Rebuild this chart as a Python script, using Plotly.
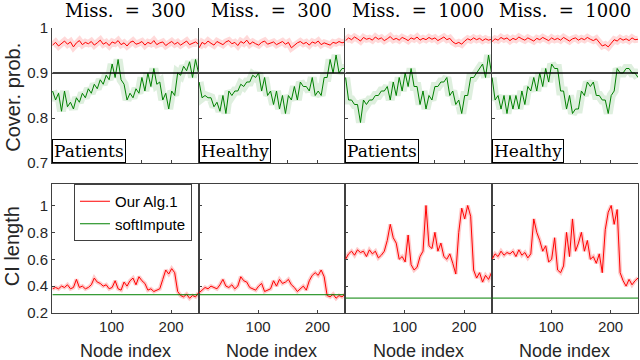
import plotly.graph_objects as go
from plotly.subplots import make_subplots

# node index (every 5th node of 246)
nodes = list(range(1, 247, 5))

titles = ["Miss. = 300", "Miss. = 300", "Miss. = 1000", "Miss. = 1000"]
groups = ["Patients", "Healthy", "Patients", "Healthy"]
target = 0.9

# coverage probability, our algorithm
cov_ours_1 = [0.962, 0.968, 0.960, 0.966, 0.971, 0.964, 0.969, 0.958, 0.967, 0.972,
              0.963, 0.968, 0.965, 0.970, 0.962, 0.967, 0.973, 0.964, 0.968, 0.961,
              0.969, 0.966, 0.972, 0.963, 0.967, 0.960, 0.968, 0.971, 0.964, 0.966,
              0.970, 0.962, 0.968, 0.965, 0.972, 0.963, 0.967, 0.969, 0.961, 0.966,
              0.970, 0.964, 0.968, 0.962, 0.967, 0.971, 0.963, 0.966, 0.969, 0.964]
cov_ours_2 = [0.956, 0.968, 0.964, 0.971, 0.966, 0.962, 0.970, 0.967, 0.963, 0.969,
              0.972, 0.965, 0.968, 0.961, 0.970, 0.966, 0.973, 0.964, 0.969, 0.965,
              0.962, 0.968, 0.971, 0.964, 0.967, 0.969, 0.963, 0.966, 0.970, 0.964,
              0.968, 0.956, 0.962, 0.967, 0.970, 0.965, 0.968, 0.962, 0.969, 0.966,
              0.971, 0.963, 0.967, 0.965, 0.962, 0.968, 0.966, 0.970, 0.967, 0.969]
cov_ours_3 = [0.972, 0.978, 0.974, 0.980, 0.976, 0.971, 0.979, 0.975, 0.977, 0.973,
              0.980, 0.975, 0.978, 0.972, 0.976, 0.981, 0.974, 0.977, 0.973, 0.979,
              0.976, 0.972, 0.978, 0.975, 0.980, 0.973, 0.977, 0.974, 0.979, 0.975,
              0.978, 0.972, 0.976, 0.980, 0.974, 0.977, 0.969, 0.965, 0.968, 0.964,
              0.971, 0.976, 0.973, 0.978, 0.974, 0.977, 0.972, 0.976, 0.973, 0.975]
cov_ours_4 = [0.970, 0.976, 0.973, 0.979, 0.975, 0.978, 0.972, 0.977, 0.974, 0.980,
              0.976, 0.973, 0.978, 0.975, 0.971, 0.977, 0.974, 0.979, 0.975, 0.972,
              0.978, 0.974, 0.977, 0.973, 0.979, 0.975, 0.971, 0.976, 0.978, 0.973,
              0.977, 0.974, 0.979, 0.975, 0.972, 0.976, 0.968, 0.960, 0.963, 0.958,
              0.966, 0.974, 0.971, 0.977, 0.973, 0.976, 0.972, 0.978, 0.974, 0.975]

# coverage probability, softImpute
cov_soft_1 = [0.86, 0.84, 0.855, 0.815, 0.86, 0.825, 0.835, 0.82, 0.845, 0.835,
              0.855, 0.845, 0.865, 0.855, 0.875, 0.865, 0.885, 0.875, 0.895, 0.885,
              0.92, 0.89, 0.93, 0.885, 0.875, 0.84, 0.855, 0.845, 0.865, 0.855,
              0.89, 0.86, 0.90, 0.87, 0.91, 0.875, 0.88, 0.84, 0.855, 0.82,
              0.86, 0.85, 0.90, 0.895, 0.915, 0.905, 0.925, 0.89, 0.93, 0.90]
cov_soft_2 = [0.88, 0.845, 0.85, 0.845, 0.845, 0.825, 0.835, 0.815, 0.85, 0.81,
              0.86, 0.85, 0.86, 0.86, 0.875, 0.87, 0.88, 0.88, 0.895, 0.89,
              0.90, 0.86, 0.89, 0.85, 0.86, 0.83, 0.86, 0.82, 0.85, 0.81,
              0.85, 0.84, 0.87, 0.84, 0.88, 0.87, 0.87, 0.86, 0.89, 0.85,
              0.86, 0.85, 0.89, 0.89, 0.93, 0.90, 0.94, 0.90, 0.91, 0.91]
cov_soft_3 = [0.89, 0.84, 0.84, 0.83, 0.83, 0.79, 0.84, 0.83, 0.84, 0.84,
              0.85, 0.85, 0.86, 0.86, 0.87, 0.84, 0.88, 0.85, 0.89, 0.86,
              0.90, 0.87, 0.91, 0.87, 0.87, 0.83, 0.86, 0.82, 0.85, 0.84,
              0.87, 0.87, 0.88, 0.88, 0.89, 0.85, 0.86, 0.83, 0.84, 0.81,
              0.85, 0.85, 0.89, 0.89, 0.90, 0.91, 0.92, 0.89, 0.94, 0.90]
cov_soft_4 = [0.89, 0.84, 0.85, 0.82, 0.85, 0.81, 0.85, 0.82, 0.85, 0.82,
              0.86, 0.83, 0.87, 0.86, 0.89, 0.86, 0.90, 0.87, 0.91, 0.88,
              0.92, 0.91, 0.91, 0.86, 0.86, 0.82, 0.85, 0.81, 0.82, 0.82,
              0.86, 0.85, 0.88, 0.87, 0.88, 0.85, 0.85, 0.84, 0.84, 0.81,
              0.85, 0.86, 0.91, 0.90, 0.90, 0.91, 0.91, 0.90, 0.90, 0.89]

# CI length, our algorithm
ci_ours_1 = [0.38, 0.39, 0.38, 0.40, 0.39, 0.41, 0.38, 0.39, 0.45, 0.39,
             0.40, 0.38, 0.39, 0.41, 0.46, 0.43, 0.42, 0.40, 0.41, 0.38,
             0.39, 0.44, 0.38, 0.37, 0.43, 0.40, 0.44, 0.46, 0.41, 0.47,
             0.44, 0.42, 0.37, 0.38, 0.36, 0.37, 0.38, 0.45, 0.52, 0.49,
             0.53, 0.50, 0.36, 0.33, 0.32, 0.34, 0.31, 0.33, 0.32, 0.35]
ci_ours_2 = [0.35, 0.37, 0.39, 0.38, 0.40, 0.39, 0.38, 0.41, 0.45, 0.40,
             0.39, 0.41, 0.38, 0.40, 0.47, 0.44, 0.43, 0.39, 0.38, 0.37,
             0.40, 0.42, 0.36, 0.37, 0.38, 0.44, 0.40, 0.45, 0.42, 0.43,
             0.45, 0.41, 0.39, 0.36, 0.38, 0.40, 0.37, 0.44, 0.48, 0.50,
             0.48, 0.52, 0.47, 0.33, 0.32, 0.34, 0.31, 0.33, 0.32, 0.34]
ci_ours_3 = [0.60, 0.64, 0.66, 0.63, 0.67, 0.65, 0.66, 0.62, 0.67, 0.64,
             0.66, 0.61, 0.63, 0.66, 0.74, 0.86, 0.76, 0.72, 0.60, 0.62,
             0.58, 0.78, 0.56, 0.52, 0.54, 0.62, 0.66, 1.00, 0.70, 0.68,
             0.80, 0.66, 0.72, 0.62, 0.60, 0.64, 0.57, 0.49, 0.80, 0.98,
             0.90, 1.00, 0.92, 0.52, 0.46, 0.50, 0.43, 0.48, 0.45, 0.50]
ci_ours_4 = [0.60, 0.64, 0.62, 0.66, 0.63, 0.65, 0.64, 0.66, 0.62, 0.67,
             0.63, 0.65, 0.61, 0.64, 0.90, 0.80, 0.74, 0.66, 0.70, 0.58,
             0.60, 0.76, 0.52, 0.50, 0.55, 0.80, 0.62, 0.90, 0.66, 0.72,
             0.80, 0.66, 0.74, 0.60, 0.62, 0.57, 0.64, 0.50, 0.82, 0.95,
             1.00, 0.86, 0.97, 0.50, 0.44, 0.40, 0.45, 0.41, 0.44, 0.46]

# CI length, softImpute (flat per panel)
ci_soft = [0.336, 0.336, 0.311, 0.311]

cov_ours = [cov_ours_1, cov_ours_2, cov_ours_3, cov_ours_4]
cov_soft = [cov_soft_1, cov_soft_2, cov_soft_3, cov_soft_4]
ci_ours = [ci_ours_1, ci_ours_2, ci_ours_3, ci_ours_4]

RED = "#ff0000"
GREEN = "#008000"
AX = "#404040"
SANS = "Liberation Sans, Arial, sans-serif"
SERIF = "DejaVu Serif, serif"

fig = make_subplots(rows=2, cols=4, horizontal_spacing=0,
                    vertical_spacing=0.0737, row_heights=[135, 129])

x_span = [nodes[0], nodes[-1]]

for c in range(4):
    col = c + 1
    # top row: coverage probability (light halo = band)
    fig.add_trace(go.Scatter(x=nodes, y=cov_ours[c], mode="lines",
                             line=dict(color="rgba(255,0,0,0.15)", width=7),
                             hoverinfo="skip", showlegend=False), row=1, col=col)
    fig.add_trace(go.Scatter(x=nodes, y=cov_soft[c], mode="lines",
                             line=dict(color="rgba(0,128,0,0.13)", width=9),
                             hoverinfo="skip", showlegend=False), row=1, col=col)
    fig.add_trace(go.Scatter(x=nodes, y=cov_ours[c], mode="lines",
                             line=dict(color=RED, width=1),
                             showlegend=False), row=1, col=col)
    fig.add_trace(go.Scatter(x=nodes, y=cov_soft[c], mode="lines",
                             line=dict(color=GREEN, width=1),
                             showlegend=False), row=1, col=col)
    fig.add_trace(go.Scatter(x=x_span, y=[target, target], mode="lines",
                             line=dict(color="black", width=1.5),
                             showlegend=False), row=1, col=col)

    # bottom row: CI length
    fig.add_trace(go.Scatter(x=nodes, y=ci_ours[c], mode="lines",
                             line=dict(color="rgba(255,0,0,0.2)", width=4),
                             hoverinfo="skip", showlegend=False), row=2, col=col)
    fig.add_trace(go.Scatter(x=nodes, y=ci_ours[c], mode="lines",
                             line=dict(color=RED, width=1),
                             name="Our Alg.1", showlegend=(c == 0)), row=2, col=col)
    fig.add_trace(go.Scatter(x=x_span, y=[ci_soft[c], ci_soft[c]], mode="lines",
                             line=dict(color=GREEN, width=1),
                             name="softImpute", showlegend=(c == 0)), row=2, col=col)

for c in range(4):
    col = c + 1
    fig.update_xaxes(range=[0, 246], showline=True, linecolor=AX, linewidth=1,
                     ticks="inside", ticklen=3, tickcolor=AX, showgrid=False,
                     zeroline=False, row=1, col=col,
                     tickvals=[50, 100, 150, 200], showticklabels=False)
    fig.update_xaxes(range=[0, 246], showline=True, linecolor=AX, linewidth=1,
                     mirror=True, ticks="inside", ticklen=3, tickcolor=AX,
                     showgrid=False, zeroline=False, row=2, col=col,
                     tickvals=[100, 200], ticktext=["100", "200"],
                     tickfont=dict(family=SANS, size=15, color="#262626"))
    fig.update_yaxes(range=[0.7, 1.0], showline=True, linecolor=AX, linewidth=1,
                     ticks="inside", ticklen=3, tickcolor=AX, showgrid=False,
                     zeroline=False, row=1, col=col,
                     tickvals=[0.7, 0.8, 0.9, 1.0], ticktext=["0.7", "0.8", "0.9", "1"],
                     showticklabels=(c == 0),
                     tickfont=dict(family=SANS, size=15, color="#262626"))
    fig.update_yaxes(range=[0.2, 1.16], showline=True, linecolor=AX, linewidth=1,
                     mirror=True, ticks="inside", ticklen=3, tickcolor=AX,
                     showgrid=False, zeroline=False, row=2, col=col,
                     tickvals=[0.2, 0.4, 0.6, 0.8, 1.0],
                     ticktext=["0.2", "0.4", "0.6", "0.8", "1"],
                     showticklabels=(c == 0),
                     tickfont=dict(family=SANS, size=15, color="#262626"))

annotations = []
for c in range(4):
    x0 = c * 0.25
    annotations.append(dict(text=titles[c].replace(" ", "\u00a0\u00a0"),
                            x=x0 + 0.125, y=1.06, xref="paper", yref="paper",
                            xanchor="center", yanchor="middle", showarrow=False,
                            font=dict(family=SERIF, size=18, color="black")))
    annotations.append(dict(text=groups[c], x=x0, y=0.5263, xref="paper", yref="paper",
                            xanchor="left", yanchor="bottom", showarrow=False,
                            bgcolor="white", bordercolor="black", borderwidth=1,
                            borderpad=1,
                            font=dict(family=SERIF, size=17, color="black")))
    annotations.append(dict(text="Node index", x=x0 + 0.125, y=-0.133,
                            xref="paper", yref="paper", xanchor="center",
                            yanchor="middle", showarrow=False,
                            font=dict(family=SANS, size=18, color="#262626")))

annotations.append(dict(text="Cover. prob.", x=-0.068, y=0.756, xref="paper",
                        yref="paper", xanchor="center", yanchor="middle",
                        textangle=-90, showarrow=False,
                        font=dict(family=SANS, size=20, color="#262626")))
annotations.append(dict(text="CI length", x=-0.068, y=0.235, xref="paper",
                        yref="paper", xanchor="center", yanchor="middle",
                        textangle=-90, showarrow=False,
                        font=dict(family=SANS, size=20, color="#262626")))

fig.update_layout(
    width=640, height=360,
    margin=dict(l=52, r=2, t=28, b=47),
    paper_bgcolor="white", plot_bgcolor="white",
    annotations=annotations,
    showlegend=True,
    legend=dict(x=0.0375, y=0.4526, xanchor="left", yanchor="top",
                bgcolor="white", bordercolor=AX, borderwidth=1,
                font=dict(family=SANS, size=15, color="black"),
                itemwidth=30, tracegroupgap=0),
)

# drop the browser's default page margin so the 640x360 figure fills the window
fig.write_html("out.html", config={"displayModeBar": False},
               post_script="document.body.style.margin='0px';")
